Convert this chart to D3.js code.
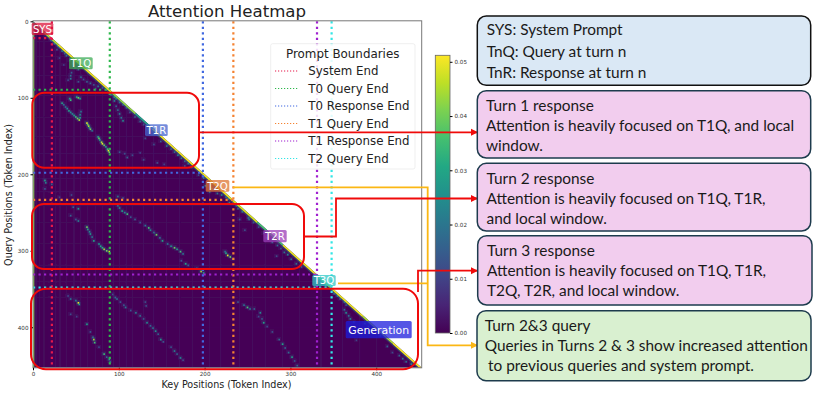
<!DOCTYPE html>
<html>
<head>
<meta charset="utf-8">
<style>
  html, body { margin: 0; padding: 0; background: #fff; }
  svg { display: block; }
  .note { font-family: Lato, "Open Sans", sans-serif; font-size: 15.4px; fill: #1a1a1a; }
  .mpl { font-family: "DejaVu Sans", sans-serif; fill: #222; }
  .tickrow text { font-family: "DejaVu Sans", sans-serif; font-size: 5.6px; fill: #333; }
</style>
<script src="https://cdn.jsdelivr.net/npm/d3@7"></script>
</head>
<body>
<svg id="chart" width="822" height="395"></svg>
<script>
var tokenCount = 453;
var axisTicks = [0, 100, 200, 300, 400];
var colorTicks = [0, 0.01, 0.02, 0.03, 0.04, 0.05];

var boundaries = [
  {name: "System End", token: 22, color: "#e6194b"},
  {name: "T0 Query End", token: 89.5, color: "#2eb84c"},
  {name: "T0 Response End", token: 198, color: "#4169e1"},
  {name: "T1 Query End", token: 233.5, color: "#f58231"},
  {name: "T1 Response End", token: 331, color: "#a020d0"},
  {name: "T2 Query End", token: 348, color: "#33e6e6"}
];

// faint full length stripes: [token, value]
var columnTints = [[3,.006],[7,.004],[12,.005],[18,.003],[26,.004],[31,.006],[38,.004],[47,.007],[55,.005],[63,.004],[72,.006],[80,.004],[93,.007],[100,.005],[108,.006],[115,.004],[128,.005],[140,.006],[155,.004],[170,.005],[185,.004],[205,.006],[218,.005],[240,.005],[255,.004],[270,.005],[290,.004],[310,.004],[335,.005],[360,.005],[380,.004],[400,.004]];
var rowTints = [[26,.004],[45,.003],[70,.004],[96,.004],[125,.003],[150,.004],[172,.005],[205,.005],[222,.006],[240,.003],[262,.003],[290,.003],[318,.004],[340,.005],[360,.003],[400,.002]];
var firstColumn = [[0,453,.042]];

// bright edge of the triangle: [from, to, value]
var diagonalBands = [[0,14,.03],[14,30,.045],[30,60,.05],[60,92,.05],[92,120,.043],[120,140,.03],[140,170,.05],[170,198,.05],[198,232,.05],[232,262,.048],[262,292,.036],[292,330,.05],[330,350,.04],[350,385,.05],[385,420,.045],[420,453,.051]];

// [query, key, value]
var localCells = [
  [24,20,.012],[28,24,.02],[31,28,.018],[33,30,.022],[36,27,.012],[38,33,.02],[41,36,.015],[44,38,.02],[47,30,.01],[50,42,.015],[54,46,.012],[56,35,.009],[60,48,.014],[62,52,.018],
  [66,44,.016],[70,43,.02],[72,55,.02],[74,43,.022],[76,40,.012],[75,58,.014],[78,52,.014],[78,62,.016],[80,66,.018],[82,70,.014],[84,75,.02],[86,80,.016],[87,72,.012],[88,85,.02],
  [95,90,.02],[98,94,.03],[100,96,.025],[103,94,.022],[105,100,.02],[110,96,.016],[115,98,.018],[120,100,.022],[125,102,.02],[129,104,.024],[108,104,.016],[112,108,.014],[118,112,.012],[124,118,.016],[130,124,.018],[134,128,.012],
  [140,134,.014],[146,140,.018],[152,130,.012],[156,148,.016],[160,140,.012],[162,155,.02],[166,160,.016],[170,164,.018],[174,168,.024],[178,172,.02],[182,176,.016],[185,180,.02],[188,176,.012],[190,184,.018],[170,100,.014],[172,106,.012],[177,109,.016],[174,115,.012],[171,124,.01],[180,128,.012],[184,144,.012],[186,152,.01],
  [200,192,.012],[204,198,.02],[207,13,.03],[210,14,.022],[212,21,.016],[218,13,.014],[214,200,.02],[218,208,.022],[222,205,.018],[224,214,.02],[226,219,.024],[229,224,.02],[231,227,.024],[229,30,.01],[226,44,.012],[228,98,.02],[230,104,.012],
  [236,228,.022],[238,233,.018],[240,236,.014],[244,238,.016],[248,243,.02],[256,250,.018],[258,240,.014],[258,251,.022],[262,256,.014],[268,262,.012],[272,246,.012],[276,268,.01],[282,272,.012],[288,278,.016],[292,284,.018],[296,288,.014],[301,292,.02],[304,296,.024],[306,283,.012],[310,300,.02],[316,306,.018],[320,312,.016],
  [336,332,.02],[340,335,.014],[345,340,.018],[355,350,.02],[358,354,.024],[362,357,.016],[366,362,.018],[370,364,.014],[376,362,.02],[380,364,.026],[384,367,.02],[388,369,.024],[392,373,.012],[394,386,.016],[398,390,.014],[404,396,.012],[410,404,.014],[416,376,.01],[424,412,.016],[432,418,.012],[436,426,.016],[440,430,.02],[444,434,.018],[447,440,.024]
];

var t1Streaks = [
  [100,42,.03],[102,43,.035],[98,50,.03],[99,52,.04],[100,54,.03],[106,33,.03],[108,35,.02],[111,37,.02],[113,39,.025],[116,41,.03],[118,43,.025],[120,45,.025],[122,47,.03],[124,49,.035],[126,51,.04],[128,53,.045],[125,54,.03],[121,54,.025],[117,55,.02],
  [132,62,.05],[134,63,.04],[136,64,.045],[138,65,.03],[140,66,.04],[142,68,.02],[150,75,.03],[152,76,.04],[154,77,.03],[157,79,.045],[159,80,.05],[161,82,.04],[163,84,.03],[166,86,.035],[168,87,.05],[170,88,.04]
];

var t2Streaks = [
  [244,52,.028],[242,46,.016],[253,43,.016],[260,52,.022],[258,49,.014],[268,62,.04],[271,63,.03],[274,65,.024],[277,66,.028],[281,68,.02],[286,70,.03],[290,76,.028],[293,78,.03],[295,80,.032],[297,82,.045],[299,85,.04],[300,88,.048],
  [240,98,.018],[243,100,.024],[247,103,.03],[249,106,.024],[251,109,.036],[255,113,.014],[258,118,.016],[262,124,.014],[266,130,.02],[269,134,.036],[272,136,.024],[275,140,.02],[278,143,.04],[282,147,.02],[286,150,.03],[290,156,.02],[293,160,.026],[295,164,.04],[297,167,.03],[300,171,.036],[303,174,.02],
  [312,172,.014],[316,177,.03],[318,180,.016],[322,190,.016],[326,195,.045],[328,198,.03],[302,224,.03],[305,226,.05],[307,229,.04],[300,223,.02],[310,232,.02]
];

var t3Streaks = [
  [358,40,.012],[362,43,.02],[364,49,.02],[367,52,.05],[369,53,.03],[382,43,.012],[385,50,.01],[395,62,.03],[405,66,.014],[412,69,.02],[415,70,.045],[419,71,.036],[425,76,.012],[434,82,.035],[438,85,.016],[441,88,.03],[444,89,.02],
  [356,92,.012],[360,95,.018],[362,97,.02],[366,101,.014],[370,105,.014],[373,107,.02],[377,113,.014],[380,119,.022],[384,124,.018],[388,128,.014],[393,132,.025],[397,136,.016],[400,139,.02],[404,142,.026],[408,145,.016],[415,148,.028],[418,151,.014],[425,160,.014],[430,164,.022],[434,167,.016],[439,171,.024],[442,174,.012],[366,130,.012],[371,131,.012],
  [366,238,.014],[370,245,.02],[373,249,.036],[375,252,.02],[375,257,.016],[380,264,.024],[385,262,.012],[388,266,.014],[393,268,.03],[398,272,.012],[405,278,.012],[415,286,.018],[421,290,.03],[426,293,.016],[432,297,.018],[438,301,.03],[443,304,.014],[449,307,.018]
];

var noteBoxes = [
  {x: 477.3, y: 16, w: 333.4, h: 69.3, fill: "#dae8f5", stroke: "#111",
    lines: [[486.7, 35, "SYS: System Prompt"], [486.7, 56.7, "TnQ: Query at turn n"], [486.7, 77.7, "TnR: Response at turn n"]]},
  {x: 477.3, y: 90.7, w: 333.4, h: 67.3, fill: "#f2cdee", stroke: "#1d3b4d",
    lines: [[486, 110.7, "Turn 1 response"], [486, 130.7, "Attention is heavily focused on T1Q, and local"], [486, 150.7, "window."]]},
  {x: 477.3, y: 163.3, w: 333.4, h: 67.7, fill: "#f2cdee", stroke: "#1d3b4d",
    lines: [[486.5, 184, "Turn 2 response"], [486.5, 204.3, "Attention is heavily focused on T1Q, T1R,"], [486.5, 224, "and local window."]]},
  {x: 477.7, y: 235.7, w: 334.3, h: 69.3, fill: "#f2cdee", stroke: "#1d3b4d",
    lines: [[487, 255.7, "Turn 3 response"], [487, 276, "Attention is heavily focused on T1Q, T1R,"], [487, 296, "T2Q, T2R, and local window."]]},
  {x: 477, y: 310.7, w: 334, h: 70, fill: "#d9f0d0", stroke: "#1d3b4d",
    lines: [[484.7, 330.7, "Turn 2&3 query"], [484.7, 351, "Queries in Turns 2 & 3 show increased attention"], [488, 370.7, "to previous queries and system prompt."]]}
];

var segmentTags = [
  {text: "SYS", x: 31.7, y: 22.7, w: 21.6, h: 12.3, color: "#dc143c", size: 10.2},
  {text: "T1Q", x: 69, y: 57.3, w: 23.7, h: 12, color: "#3cab55", size: 10.2},
  {text: "T1R", x: 145, y: 124.3, w: 22.7, h: 11.7, color: "#4565cf", size: 10.2},
  {text: "T2Q", x: 205.7, y: 180, w: 23.6, h: 11.7, color: "#dd7434", size: 10.2},
  {text: "T2R", x: 263.3, y: 230, w: 23.4, h: 12.3, color: "#9a3db8", size: 10.2},
  {text: "T3Q", x: 312.3, y: 275, w: 23.4, h: 11, color: "#30c8c8", size: 10.2},
  {text: "Generation", x: 345.7, y: 321, w: 66, h: 17.3, color: "#1c1cdc", size: 10.9}
];

var regionBoxes = [
  {x: 32.3, y: 92.7, w: 166.7, h: 75, r: 12},
  {x: 32, y: 204, w: 272, h: 65, r: 12},
  {x: 31, y: 288.7, w: 387, h: 80.6, r: 15}
];

var redLinks = [
  [[199, 132.3], [477, 132.3]],
  [[304, 236.5], [336, 236.5], [336, 198.5], [477, 198.5]],
  [[418, 292], [418, 270.7], [477, 270.7]]
];
var yellowLinks = [
  [[233, 187.3], [427.7, 187.3], [427.7, 345.3], [477, 345.3]],
  [[338, 283.3], [427.7, 283.3]]
];

var svg = d3.select("#chart");
var plot = {left: 33, right: 421.7, top: 21.3, bottom: 367.8};

var x = d3.scaleLinear().domain([0, tokenCount]).range([plot.left, plot.right]);
var y = d3.scaleLinear().domain([0, tokenCount]).range([plot.top, plot.bottom]);
var colorMax = 0.0512;
var color = d3.scaleSequential(d3.interpolateViridis).domain([0, colorMax]);

svg.append("text").attr("class", "mpl")
  .attr("x", 227).attr("y", 17)
  .attr("text-anchor", "middle")
  .style("font-size", "16.6px")
  .text("Attention Heatmap");

// heatmap
var defs = svg.append("defs");
defs.append("filter").attr("id", "soft")
  .append("feGaussianBlur").attr("stdDeviation", 0.45);
defs.append("clipPath").attr("id", "tri")
  .append("path")
  .attr("d", "M" + x(0) + "," + y(0) + "L" + x(tokenCount) + "," + y(tokenCount) + "L" + x(0) + "," + y(tokenCount) + "Z");

var heat = svg.append("g").attr("clip-path", "url(#tri)").append("g").attr("filter", "url(#soft)");

heat.append("rect")
  .attr("x", x(0)).attr("y", y(0))
  .attr("width", x(tokenCount) - x(0)).attr("height", y(tokenCount) - y(0))
  .attr("fill", color(0.0004));

heat.selectAll("rect.col").data(columnTints).enter().append("rect")
  .attr("class", "col")
  .attr("x", function(d){ return x(d[0]); })
  .attr("y", y(0))
  .attr("width", x(1.4) - x(0))
  .attr("height", y(tokenCount) - y(0))
  .attr("fill", function(d){ return color(d[1]); })
  .attr("opacity", 0.25);

heat.selectAll("rect.row").data(rowTints).enter().append("rect")
  .attr("class", "row")
  .attr("x", x(0))
  .attr("y", function(d){ return y(d[0]); })
  .attr("width", x(tokenCount) - x(0))
  .attr("height", y(1.4) - y(0))
  .attr("fill", function(d){ return color(d[1]); })
  .attr("opacity", 0.25);

heat.selectAll("rect.first").data(firstColumn).enter().append("rect")
  .attr("class", "first")
  .attr("x", x(0))
  .attr("y", function(d){ return y(d[0]); })
  .attr("width", x(1.5) - x(0))
  .attr("height", function(d){ return y(d[1]) - y(d[0]); })
  .attr("fill", function(d){ return color(d[2]); });

var allCells = localCells.concat(t1Streaks, t2Streaks, t3Streaks);

// wider faint spot under every cell, the source image is soft
heat.selectAll("rect.halo").data(allCells).enter().append("rect")
  .attr("class", "halo")
  .attr("x", function(d){ return x(d[1] - 2); })
  .attr("y", function(d){ return y(d[0] - 2); })
  .attr("width", x(5) - x(0))
  .attr("height", y(5) - y(0))
  .attr("fill", function(d){ return color(d[2] * 0.5); })
  .attr("opacity", 0.25);

heat.selectAll("rect.cell").data(allCells).enter().append("rect")
  .attr("class", "cell")
  .attr("x", function(d){ return x(d[1]); })
  .attr("y", function(d){ return y(d[0]); })
  .attr("width", x(1.8) - x(0))
  .attr("height", y(2.2) - y(0))
  .attr("fill", function(d){ return color(d[2]); });

var diagGroup = svg.append("g").attr("clip-path", "url(#tri)");
diagGroup.selectAll("line.glow").data(diagonalBands).enter().append("line")
  .attr("class", "glow")
  .attr("x1", function(d){ return x(d[0]); })
  .attr("y1", function(d){ return y(d[0]); })
  .attr("x2", function(d){ return x(d[1]); })
  .attr("y2", function(d){ return y(d[1]); })
  .attr("stroke", function(d){ return color(d[2] * 0.5); })
  .attr("stroke-width", 6)
  .attr("opacity", 0.4);
diagGroup.selectAll("line.edge").data(diagonalBands).enter().append("line")
  .attr("class", "edge")
  .attr("x1", function(d){ return x(d[0]); })
  .attr("y1", function(d){ return y(d[0]); })
  .attr("x2", function(d){ return x(d[1]); })
  .attr("y2", function(d){ return y(d[1]); })
  .attr("stroke", function(d){ return color(d[2]); })
  .attr("stroke-width", 3.2);

// boundaries
var dotted = svg.append("g");
boundaries.forEach(function(b){
  dotted.append("line")
    .attr("x1", x(b.token)).attr("x2", x(b.token))
    .attr("y1", y(0)).attr("y2", y(tokenCount))
    .attr("stroke", b.color).attr("stroke-width", 2.2)
    .attr("stroke-dasharray", "2.2 3.3");
  dotted.append("line")
    .attr("x1", x(0)).attr("x2", x(b.token))
    .attr("y1", y(b.token)).attr("y2", y(b.token))
    .attr("stroke", b.color).attr("stroke-width", 2.2)
    .attr("stroke-dasharray", "2.2 3.3");
});

// frame and axes
svg.append("rect")
  .attr("x", plot.left).attr("y", plot.top - 0.5)
  .attr("width", plot.right - plot.left).attr("height", plot.bottom - plot.top + 0.5)
  .attr("fill", "none").attr("stroke", "#777").attr("stroke-width", 1);

var xAxis = svg.append("g").attr("class", "tickrow")
  .attr("transform", "translate(0," + plot.bottom + ")")
  .call(d3.axisBottom(x).tickValues(axisTicks).tickSize(2.5).tickPadding(2));
var yAxis = svg.append("g").attr("class", "tickrow")
  .attr("transform", "translate(" + plot.left + ",0)")
  .call(d3.axisLeft(y).tickValues(axisTicks).tickSize(2.5).tickPadding(2));
xAxis.select(".domain").remove();
yAxis.select(".domain").remove();

svg.append("text").attr("class", "mpl")
  .attr("x", 226.5).attr("y", 388)
  .attr("text-anchor", "middle")
  .style("font-size", "9.6px")
  .text("Key Positions (Token Index)");
svg.append("text").attr("class", "mpl")
  .attr("transform", "translate(11.5,195) rotate(-90)")
  .attr("text-anchor", "middle")
  .style("font-size", "9.6px")
  .text("Query Positions (Token Index)");

// legend
var legend = svg.append("g");
legend.append("rect")
  .attr("x", 270.7).attr("y", 43.7)
  .attr("width", 144.3).attr("height", 125.3)
  .attr("rx", 2)
  .attr("fill", "#fff").attr("fill-opacity", 0.85)
  .attr("stroke", "#e4e4e4").attr("stroke-width", 0.6);
legend.append("text").attr("class", "mpl")
  .attr("x", 342.7).attr("y", 58)
  .attr("text-anchor", "middle")
  .style("font-size", "11.9px")
  .text("Prompt Boundaries");
var legendRow = d3.scaleLinear().domain([0, 5]).range([71, 158.5]);
var legendRows = legend.selectAll("g.item").data(boundaries).enter().append("g")
  .attr("class", "item")
  .attr("transform", function(d, i){ return "translate(0," + legendRow(i) + ")"; });
legendRows.append("line")
  .attr("x1", 275).attr("x2", 298)
  .attr("stroke", function(d){ return d.color; })
  .attr("stroke-width", 1.2)
  .attr("stroke-dasharray", "1.2 1.8");
legendRows.append("text").attr("class", "mpl")
  .attr("x", 308.3).attr("y", 4.2)
  .style("font-size", "11.8px")
  .text(function(d){ return d.name; });

// colour bar
var barScale = d3.scaleLinear().domain([0, colorMax]).range([333, 55.3]);
var gradient = defs.append("linearGradient").attr("id", "viridisBar")
  .attr("x1", 0).attr("x2", 0).attr("y1", 1).attr("y2", 0);
d3.range(0, 1.01, 0.1).forEach(function(t){
  gradient.append("stop").attr("offset", t).attr("stop-color", d3.interpolateViridis(t));
});
svg.append("rect")
  .attr("x", 435.3).attr("y", 55.3)
  .attr("width", 14.7).attr("height", 277.7)
  .attr("fill", "url(#viridisBar)")
  .attr("stroke", "#666").attr("stroke-width", 0.8);
var barAxis = svg.append("g").attr("class", "tickrow")
  .attr("transform", "translate(450,0)")
  .call(d3.axisRight(barScale).tickValues(colorTicks).tickSize(2.5).tickPadding(2).tickFormat(d3.format(".2f")));
barAxis.select(".domain").remove();

// boxes around the turns
svg.selectAll("rect.region").data(regionBoxes).enter().append("rect")
  .attr("class", "region")
  .attr("x", function(d){ return d.x; })
  .attr("y", function(d){ return d.y; })
  .attr("width", function(d){ return d.w; })
  .attr("height", function(d){ return d.h; })
  .attr("rx", function(d){ return d.r; })
  .attr("fill", "none").attr("stroke", "#f00a0a").attr("stroke-width", 2);

// segment tags
var tags = svg.selectAll("g.tag").data(segmentTags).enter().append("g").attr("class", "tag");
tags.append("rect")
  .attr("x", function(d){ return d.x; })
  .attr("y", function(d){ return d.y; })
  .attr("width", function(d){ return d.w; })
  .attr("height", function(d){ return d.h; })
  .attr("rx", 1.5)
  .attr("fill", function(d){ return d.color; })
  .attr("fill-opacity", 0.75);
tags.append("text").attr("class", "mpl")
  .attr("x", function(d){ return d.x + d.w / 2; })
  .attr("y", function(d){ return d.y + d.h / 2 + d.size * 0.36; })
  .attr("text-anchor", "middle")
  .style("font-size", function(d){ return d.size + "px"; })
  .style("fill", "#fff")
  .text(function(d){ return d.text; });

// connectors
var link = d3.line();
function drawLinks(rows, stroke, width){
  svg.selectAll(null).data(rows).enter().append("path")
    .attr("d", link)
    .attr("fill", "none")
    .attr("stroke", stroke)
    .attr("stroke-width", width);
}
function arrowHead(end, fill){
  svg.append("path")
    .attr("d", "M" + (end[0] + 1) + "," + end[1] + "l-7,-3.5v7z")
    .attr("fill", fill);
}
drawLinks(yellowLinks, "#fbb714", 1.8);
drawLinks(redLinks, "#f00a0a", 1.8);
redLinks.forEach(function(r){ arrowHead(r[r.length - 1], "#f00a0a"); });
arrowHead(yellowLinks[0][3], "#fbb714");

// notes on the right
var notes = svg.selectAll("g.notebox").data(noteBoxes).enter().append("g").attr("class", "notebox");
notes.append("rect")
  .attr("x", function(d){ return d.x; })
  .attr("y", function(d){ return d.y; })
  .attr("width", function(d){ return d.w; })
  .attr("height", function(d){ return d.h; })
  .attr("rx", 9)
  .attr("fill", function(d){ return d.fill; })
  .attr("stroke", function(d){ return d.stroke; })
  .attr("stroke-width", 1.5);
notes.selectAll("text").data(function(d){ return d.lines; }).enter().append("text")
  .attr("class", "note")
  .attr("x", function(d){ return d[0]; })
  .attr("y", function(d){ return d[1]; })
  .text(function(d){ return d[2]; });
</script>
</body>
</html>
